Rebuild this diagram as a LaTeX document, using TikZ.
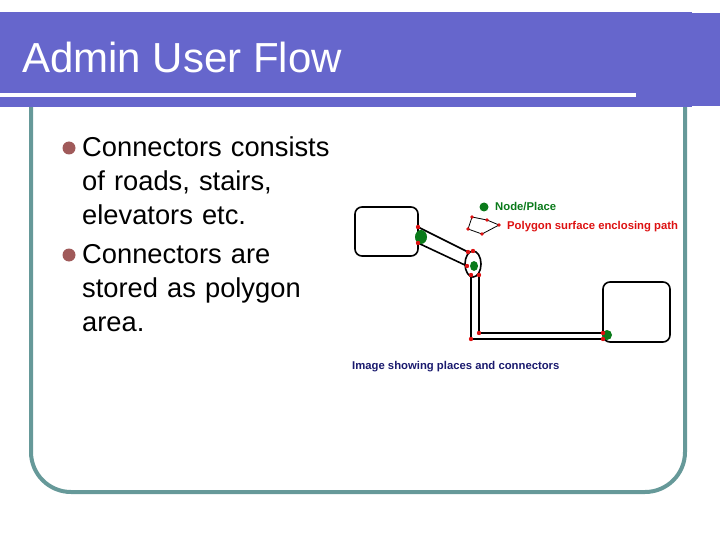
\documentclass[tikz,border=0pt]{standalone}
\usepackage{fontspec}
\setmainfont{Liberation Sans}
\begin{document}
\begin{tikzpicture}[x=1pt,y=-1pt,
  room/.style={draw=black,line width=1.6pt,rounded corners=7pt},
  wall/.style={draw=black,line width=1.6pt},
  lbl/.style={font=\bfseries\fontsize{11.3}{12}\selectfont,anchor=west,inner sep=0pt}]
\useasboundingbox (0,0) rectangle (720,540);
\definecolor{hdr}{HTML}{6666CC}
\definecolor{frm}{HTML}{669999}
\definecolor{navy}{HTML}{1A1A6E}
\definecolor{gdot}{HTML}{0A7A1A}
\definecolor{rd}{HTML}{DD1111}
\definecolor{bul}{HTML}{A05A5A}
% frame
\draw[frm,line width=4pt,rounded corners=40pt] (31,100) -- (31,492) -- (685,492) -- (685,100);
% header
\fill[hdr] (0,12) rectangle (692,107);
\fill[hdr] (692,13) rectangle (720,106);
\fill[white] (0,93) rectangle (636,97);
\node[anchor=west,white,font=\fontsize{42}{44}\selectfont,inner sep=0pt] (title) at (22,57) {Admin User Flow};
% bullets
\begin{scope}[font=\fontsize{27.3}{34}\selectfont]
\node[anchor=north west,align=left,inner sep=0pt,text width=290pt] (b1) at (82,137) {Connectors consists\\of roads, stairs,\\elevators etc.};
\node[anchor=north west,align=left,inner sep=0pt,text width=290pt] (b2) at (82,244) {Connectors are\\stored as polygon\\area.};
\end{scope}
\fill[bul] (69,148) circle (6.5);
\fill[bul] (69,255) circle (6.5);
% diagram
\draw[room] (355,207) rectangle (418,256);
\draw[room] (603,282) rectangle (670,342);
\coordinate (a1) at (418,227); \coordinate (a2) at (468,252);
\coordinate (b1p) at (418,243); \coordinate (b2p) at (467,266);
\draw[wall] (a1) -- (a2);
\draw[wall] (b1p) -- (b2p);
\draw[wall] (473,264) ellipse (8 and 13);
\draw[wall] (471,275) -- (471,339) -- (603,339);
\draw[wall] (479,275) -- (479,333) -- (603,333);
\fill[gdot] (421,237) ellipse (6 and 7);
\fill[gdot] (474,266) ellipse (4 and 5);
\fill[gdot] (607,335) circle (5);
\foreach \p in {(418,227),(418,243),(468,252),(467,266),(471,275),(479,275),(471,339),(479,333),(603,333),(603,339),(473,251)}
  \fill[rd] \p circle (2.2);
% legend
\fill[gdot] (484,207) circle (4.5);
\node[lbl,gdot] (np) at (495,207) {Node/Place};
\draw[black,line width=0.8pt] (472,217) -- (487,220) -- (499,225) -- (482,234) -- (468,229) -- cycle;
\foreach \p in {(472,217),(487,220),(499,225),(482,234),(468,229)} \fill[rd] \p circle (1.8);
\node[lbl,rd] (pg) at (507,227) {Polygon surface enclosing path};
\node[lbl,navy] (cap) at (352,367) {Image showing places and connectors};
\end{tikzpicture}
\end{document}
